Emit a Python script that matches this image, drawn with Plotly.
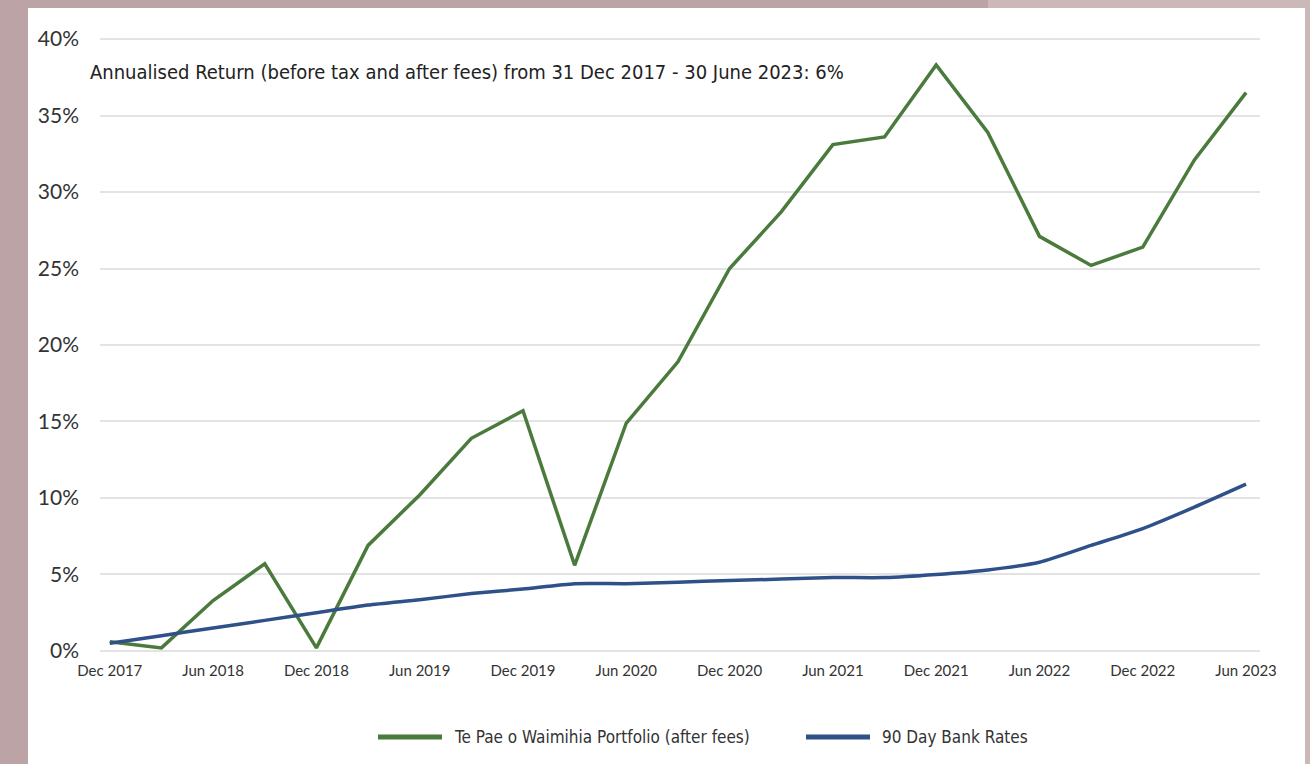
import plotly.graph_objects as go

quarters = ["Dec 2017", "Mar 2018", "Jun 2018", "Sep 2018", "Dec 2018", "Mar 2019",
            "Jun 2019", "Sep 2019", "Dec 2019", "Mar 2020", "Jun 2020", "Sep 2020",
            "Dec 2020", "Mar 2021", "Jun 2021", "Sep 2021", "Dec 2021", "Mar 2022",
            "Jun 2022", "Sep 2022", "Dec 2022", "Mar 2023", "Jun 2023"]
portfolio = [0.6, 0.2, 3.3, 5.7, 0.2, 6.9, 10.2, 13.9, 15.7, 5.6, 14.9, 18.9,
             25.0, 28.7, 33.1, 33.6, 38.3, 33.9, 27.1, 25.2, 26.4, 32.1, 36.5]
bank_rates = [0.5, 1.0, 1.5, 2.0, 2.5, 3.0, 3.35, 3.75, 4.05, 4.4, 4.4, 4.5,
              4.6, 4.7, 4.8, 4.8, 5.0, 5.3, 5.8, 6.9, 8.0, 9.4, 10.9]
ytick_vals = [0, 5, 10, 15, 20, 25, 30, 35, 40]
ytick_text = ["0%", "5%", "10%", "15%", "20%", "25%", "30%", "35%", "40%"]
names = ["Te Pae o Waimihia Portfolio (after fees)", "90 Day Bank Rates"]
colors = ["#4a7a3c", "#2f5088"]
note = "Annualised Return (before tax and after fees) from 31 Dec 2017 - 30 June 2023: 6%"

xi = list(range(len(quarters)))
tickpos = xi[::2]
ticklab = quarters[::2]

NARROW = "Liberation Sans Narrow, DejaVu Sans Condensed, Arial Narrow, sans-serif"
MAIN = "Lato, Noto Sans, sans-serif"

fig = go.Figure()
fig.add_trace(go.Scatter(x=xi, y=portfolio, mode="lines", name=names[0],
                         line=dict(color=colors[0], width=3.5), showlegend=False))
fig.add_trace(go.Scatter(x=xi, y=bank_rates, mode="lines", name=names[1],
                         line=dict(color=colors[1], width=3.5, shape="spline", smoothing=0.6),
                         showlegend=False))

L, R, T, B = 100, 50, 30, 104
W, H = 1310, 764
pw, ph = W - L - R, H - T - B

def px_x(p):
    return (p - L) / pw

def px_y(p):
    return (H - B - p) / ph

shapes = [
    dict(type="rect", xref="paper", yref="paper", x0=px_x(28), x1=px_x(1305),
         y0=px_y(820), y1=px_y(8), fillcolor="white", line_width=0, layer="below"),
    dict(type="rect", xref="paper", yref="paper", x0=px_x(988), x1=px_x(1320),
         y0=px_y(8), y1=px_y(-10), fillcolor="#cbb8b9", line_width=0, layer="below"),
    dict(type="rect", xref="paper", yref="paper", x0=px_x(1305), x1=px_x(1320),
         y0=px_y(820), y1=px_y(8), fillcolor="#cbb8b9", line_width=0, layer="below"),
]
annotations = [
    dict(text=note, xref="paper", yref="paper", x=px_x(88), y=px_y(72),
         xanchor="left", yanchor="middle", showarrow=False,
         font=dict(family=NARROW, size=20, color="#222222")),
]

leg_y = px_y(737)
for i, (nm, c) in enumerate(zip(names, colors)):
    x0 = [378, 806][i]
    shapes.append(dict(type="line", xref="paper", yref="paper", x0=px_x(x0), x1=px_x(x0 + 64),
                       y0=leg_y, y1=leg_y, line=dict(color=c, width=5)))
    annotations.append(dict(text=nm, xref="paper", yref="paper", x=px_x(x0 + 74), y=leg_y,
                            xanchor="left", yanchor="middle", showarrow=False,
                            font=dict(family=NARROW, size=17, color="#333333")))

fig.update_layout(
    width=W, height=H,
    margin=dict(l=L, r=R, t=T, b=B, pad=0),
    paper_bgcolor="#bca4a6",
    plot_bgcolor="white",
    shapes=shapes,
    annotations=annotations,
    xaxis=dict(range=[-0.19, 22.27], tickvals=tickpos, ticktext=ticklab,
               showgrid=False, zeroline=False, showline=False, ticks="",
               tickfont=dict(family=MAIN, size=15, color="#333333")),
    yaxis=dict(range=[-0.59, 40.59], tickvals=ytick_vals, ticktext=ytick_text,
               showgrid=True, gridcolor="#e3e3e3", gridwidth=2, zeroline=False,
               showline=False, ticks="", ticklabelstandoff=20,
               tickfont=dict(family=MAIN, size=21, color="#333333")),
)

fig.write_html("out.html")
